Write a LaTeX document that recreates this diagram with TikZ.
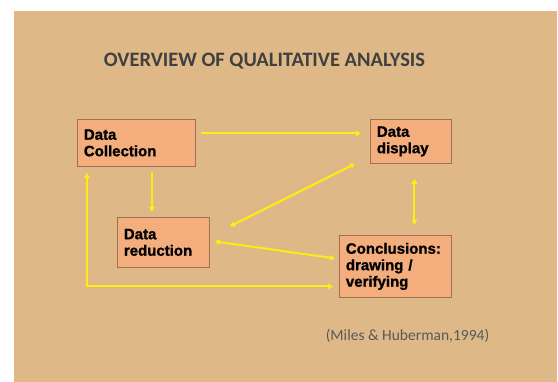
\documentclass[tikz,border=0pt]{standalone}
\usepackage{fontspec}
\newfontfamily\boxfont[BoldFont={Liberation Sans Bold}, BoldFeatures={FakeBold=1.2}]{Liberation Sans}
\newfontfamily\slidefont{Carlito}
\usepackage{tikz}
\usetikzlibrary{arrows.meta, positioning, calc}

\definecolor{slidebg}{RGB}{222,184,135}
\definecolor{boxfill}{RGB}{244,174,126}
\definecolor{boxline}{RGB}{160,112,82}
\definecolor{arrowyellow}{RGB}{255,236,20}
\definecolor{titlegray}{RGB}{64,64,64}
\definecolor{citegray}{RGB}{89,89,89}

\begin{document}
\begin{tikzpicture}[
    x=1pt, y=-1pt,
    stage/.style={rectangle, draw=boxline, fill=boxfill, line width=0.8pt, anchor=north west, align=left, inner xsep=6.5pt, font=\boxfont\bfseries\fontsize{15}{16.5}\selectfont},
    arrow/.style={draw=arrowyellow, line width=2pt, -{Triangle[length=5pt,width=5.5pt]}},
    twoway/.style={draw=arrowyellow, line width=2pt, {Triangle[length=5pt,width=5.5pt]}-{Triangle[length=5pt,width=5.5pt]}}
]

% ---------- slide ----------
\useasboundingbox (0,0) rectangle (558,382);
\fill[white] (0,0) rectangle (558,382);
\fill[slidebg] (14,11) rectangle (557,382);

\node (title) [anchor=base, text=titlegray, font=\slidefont\bfseries\fontsize{20.5}{24}\selectfont] at (264.5,67) {OVERVIEW OF QUALITATIVE ANALYSIS};

% ---------- boxes ----------
\node (collect) [stage, minimum width=118, minimum height=47, text width=105] at (77,119) {Data\\Collection};
\node (display) [stage, minimum width=81, minimum height=44, text width=68] at (370,119) {Data\\display};
\node (reduct) [stage, minimum width=92, minimum height=50, text width=79] at (117,217) {Data\\reduction};
\node (conc) [stage, minimum width=112, minimum height=62, text width=99] at (339,235) {Conclusions:\\drawing /\\verifying};

\node (cite) [anchor=base, text=citegray, font=\slidefont\fontsize{15.5}{18}\selectfont] at (407.5,341) {(Miles \& Huberman,1994)};

% ---------- arrows ----------
\draw [arrow] ([xshift=5pt,yshift=9.5pt]collect.east) -- ([xshift=-9pt,yshift=8pt]display.west);
\draw [arrow] ([xshift=15.5pt,yshift=-5pt]collect.south) -- ([xshift=-11.5pt,yshift=5pt]reduct.north);
\draw [twoway] ([xshift=-15pt]display.south west) -- ([xshift=20pt,yshift=16pt]reduct.east);
\draw [twoway] ([xshift=3.5pt,yshift=-15pt]display.south) -- ([xshift=19pt,yshift=10pt]conc.north);
\draw [twoway] ([xshift=-4pt,yshift=8pt]conc.west) -- ([xshift=5pt,yshift=1pt]reduct.east);

% loop back to collection
\draw [twoway] ([xshift=-6pt,yshift=-20pt]conc.west) -| ([xshift=10pt,yshift=-6pt]collect.south west);

\end{tikzpicture}
\end{document}
